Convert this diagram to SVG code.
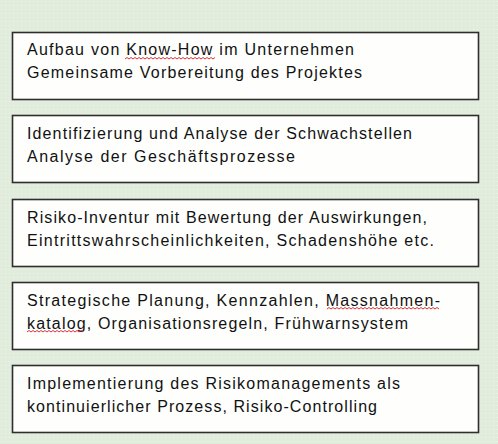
<svg xmlns="http://www.w3.org/2000/svg" width="498" height="444" viewBox="0 0 498 444">
<defs>
<style>
.box{fill:#fefffd;stroke:#2e2e2e;stroke-width:1.6}
.t{font-family:"Liberation Sans",Arial,sans-serif;font-size:16px;fill:#111}
.sq{fill:none;stroke:#e0303a;stroke-width:1}
</style>
<pattern id="dots" width="4" height="4" patternUnits="userSpaceOnUse">
<rect width="4" height="4" fill="#e1ecdd"/>
<rect x="1" y="1" width="1" height="1" fill="#edf4ea"/>
</pattern>
</defs>
<rect width="498" height="444" fill="url(#dots)"/>
<g id="node1">
<rect class="box" x="12.5" y="32.5" width="466" height="67"/>
<text class="t" x="27" y="55" textLength="327" lengthAdjust="spacing">Aufbau von Know-How im Unternehmen</text>
<text class="t" x="27" y="78" textLength="335" lengthAdjust="spacing">Gemeinsame Vorbereitung des Projektes</text>
</g>
<g id="node2">
<rect class="box" x="12.5" y="115.5" width="466" height="67"/>
<text class="t" x="27" y="139" textLength="385" lengthAdjust="spacing">Identifizierung und Analyse der Schwachstellen</text>
<text class="t" x="27" y="162" textLength="268" lengthAdjust="spacing">Analyse der Geschäftsprozesse</text>
</g>
<g id="node3">
<rect class="box" x="12.5" y="199.5" width="466" height="67"/>
<text class="t" x="27" y="223" textLength="400" lengthAdjust="spacing">Risiko-Inventur mit Bewertung der Auswirkungen,</text>
<text class="t" x="27" y="246" textLength="407" lengthAdjust="spacing">Eintrittswahrscheinlichkeiten, Schadenshöhe etc.</text>
</g>
<g id="node4">
<rect class="box" x="12.5" y="282.5" width="466" height="67"/>
<text class="t" x="27" y="306" textLength="413" lengthAdjust="spacing">Strategische Planung, Kennzahlen, Massnahmen-</text>
<text class="t" x="27" y="329" textLength="381" lengthAdjust="spacing">katalog, Organisationsregeln, Frühwarnsystem</text>
</g>
<g id="node5">
<rect class="box" x="12.5" y="365.5" width="466" height="67"/>
<text class="t" x="27" y="389" textLength="373" lengthAdjust="spacing">Implementierung des Risikomanagements als</text>
<text class="t" x="27" y="412" textLength="350" lengthAdjust="spacing">kontinuierlicher Prozess, Risiko-Controlling</text>
</g>
<g id="spellmarks">
<path class="sq" d="M125 59 l2 -1.5 l2 1.5 l2 -1.5 l2 1.5 l2 -1.5 l2 1.5 l2 -1.5 l2 1.5 l2 -1.5 l2 1.5 l2 -1.5 l2 1.5 l2 -1.5 l2 1.5 l2 -1.5 l2 1.5 l2 -1.5 l2 1.5 l2 -1.5 l2 1.5 l2 -1.5 l2 1.5 l2 -1.5 l2 1.5 l2 -1.5 l2 1.5 l2 -1.5 l2 1.5 l2 -1.5 l2 1.5 l2 -1.5 l2 1.5 l2 -1.5 l2 1.5 l2 -1.5 l2 1.5 l2 -1.5 l2 1.5 l2 -1.5 l2 1.5 l2 -1.5 l2 1.5 l2 -1.5 l2 1.5 l2 -1.5"/>
<path class="sq" d="M327 309 l2 -1.5 l2 1.5 l2 -1.5 l2 1.5 l2 -1.5 l2 1.5 l2 -1.5 l2 1.5 l2 -1.5 l2 1.5 l2 -1.5 l2 1.5 l2 -1.5 l2 1.5 l2 -1.5 l2 1.5 l2 -1.5 l2 1.5 l2 -1.5 l2 1.5 l2 -1.5 l2 1.5 l2 -1.5 l2 1.5 l2 -1.5 l2 1.5 l2 -1.5 l2 1.5 l2 -1.5 l2 1.5 l2 -1.5 l2 1.5 l2 -1.5 l2 1.5 l2 -1.5 l2 1.5 l2 -1.5 l2 1.5 l2 -1.5 l2 1.5 l2 -1.5 l2 1.5 l2 -1.5 l2 1.5 l2 -1.5 l2 1.5 l2 -1.5 l2 1.5 l2 -1.5 l2 1.5 l2 -1.5 l2 1.5 l2 -1.5 l2 1.5 l2 -1.5 l2 1.5"/>
<path class="sq" d="M27 332 l2 -1.5 l2 1.5 l2 -1.5 l2 1.5 l2 -1.5 l2 1.5 l2 -1.5 l2 1.5 l2 -1.5 l2 1.5 l2 -1.5 l2 1.5 l2 -1.5 l2 1.5 l2 -1.5 l2 1.5 l2 -1.5 l2 1.5 l2 -1.5 l2 1.5 l2 -1.5 l2 1.5 l2 -1.5 l2 1.5 l2 -1.5 l2 1.5 l2 -1.5 l2 1.5"/>
</g>
</svg>
